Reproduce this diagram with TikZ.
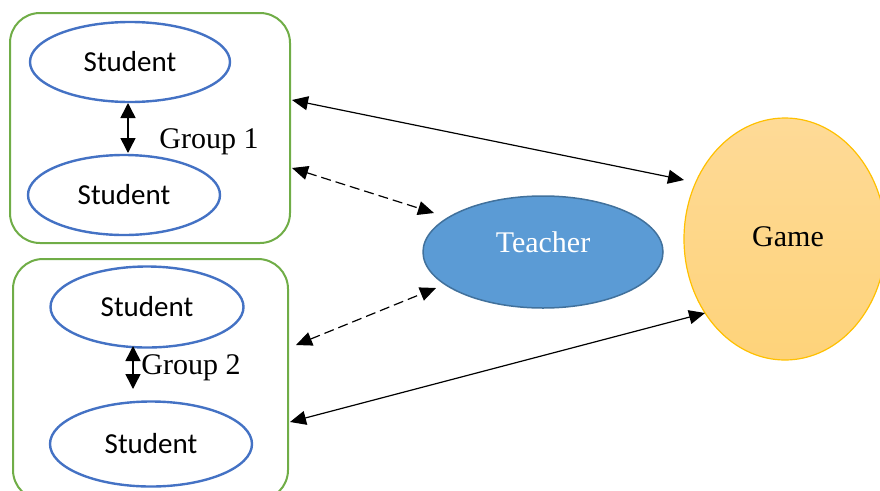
\documentclass[tikz,border=0pt]{standalone}
\usepackage{fontspec}
\setmainfont{Liberation Serif}
\newfontfamily\calib{Carlito}
\usetikzlibrary{shapes.geometric,arrows.meta}
\definecolor{sblue}{HTML}{4472C4}
\definecolor{ggreen}{HTML}{70AD47}
\definecolor{tfill}{HTML}{5B9BD5}
\definecolor{tdraw}{HTML}{41719C}
\definecolor{gtop}{HTML}{FEDA97}
\definecolor{gbot}{HTML}{FED37A}
\definecolor{gdraw}{HTML}{FFC000}
\begin{document}
\begin{tikzpicture}[x=1pt,y=-1pt,
  groupbox/.style={draw=ggreen,line width=2pt,rounded corners=30pt},
  student/.style={ellipse,draw=sblue,line width=2.4pt,inner sep=0pt,
    font=\calib\fontsize{29}{32}\selectfont},
  biarrow/.style={{Triangle[length=16pt,width=14pt]}-{Triangle[length=16pt,width=14pt]},line width=1.2pt},
  smallarrow/.style={{Triangle[length=15pt,width=15pt]}-{Triangle[length=15pt,width=15pt]},line width=1.5pt},
  dashline/.style={dash pattern=on 10pt off 5pt},
  lbl/.style={inner sep=0pt,font=\fontsize{30}{34}\selectfont}]
\useasboundingbox (0,0) rectangle (880,490);
\clip (0,0) rectangle (880,490);
% group boxes
\draw[groupbox] (10,13) rectangle (290,243);
\draw[groupbox] (13,259) rectangle (288,500);
% students
\node[student,minimum width=200pt,minimum height=80pt] (s1) at (130,62) {Student};
\node[student,minimum width=192pt,minimum height=80pt] (s2) at (124,195) {Student};
\node[student,minimum width=193pt,minimum height=81pt] (s3) at (147,307) {Student};
\node[student,minimum width=202pt,minimum height=85pt] (s4) at (151,444) {Student};
\node[lbl] (g1) at (209,142) {Group 1};
\node[lbl] (g2) at (191,368) {Group 2};
% teacher and game
\node[ellipse,fill=tfill,draw=tdraw,line width=1.5pt,minimum width=240pt,minimum height=112pt,
  inner sep=0pt] (t) at (543,252) {};
\node[lbl,text=white] (tt) at (543,242) {Teacher};
\node[ellipse,top color=gtop,bottom color=gbot,draw=gdraw,line width=1.2pt,minimum width=202pt,
  minimum height=242pt,inner sep=0pt] (gm) at (785,239) {};
\node[lbl] (gmt) at (788,237) {Game};
% connectors
\coordinate (a1) at (128,103);
\coordinate (a2) at (128,153);
\draw[smallarrow] (a1) -- (a2);
\coordinate (b1) at (133,346);
\coordinate (b2) at (133,389);
\draw[smallarrow] (b1) -- (b2);
\coordinate (c1) at (292,100);
\coordinate (c2) at (684,180);
\draw[biarrow] (c1) -- (c2);
\coordinate (d1) at (292,168);
\coordinate (d2) at (434,213);
\draw[biarrow,dashline] (d1) -- (d2);
\coordinate (e1) at (296,345);
\coordinate (e2) at (436,288);
\draw[biarrow,dashline] (e1) -- (e2);
\coordinate (f1) at (290,422);
\coordinate (f2) at (705,313);
\draw[biarrow] (f1) -- (f2);
\end{tikzpicture}
\end{document}
